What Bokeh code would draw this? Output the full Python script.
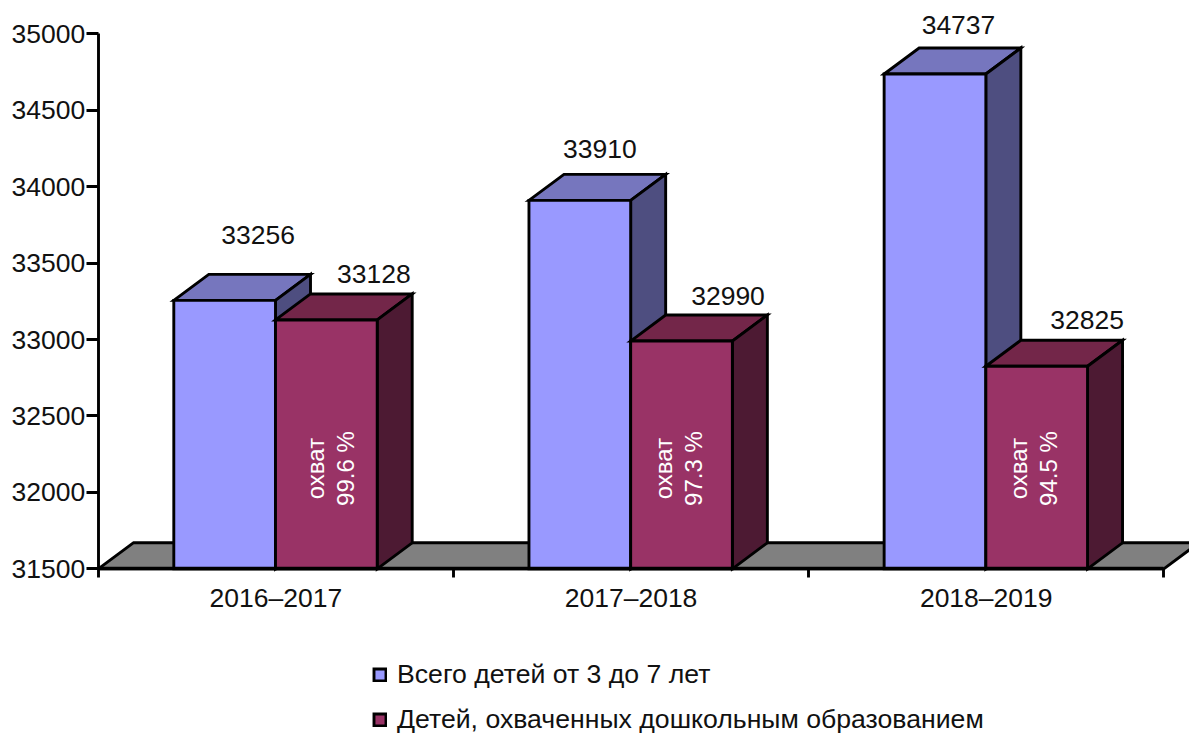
import math
from bokeh.plotting import figure
from bokeh.models import LinearAxis, FixedTicker, Range1d, Legend, LegendItem, ColumnDataSource
from bokeh.core.properties import value
from bokeh.embed import file_html
from bokeh.resources import INLINE

categories = ["2016–2017", "2017–2018", "2018–2019"]
total_children = [33256, 33910, 34737]
covered_children = [33128, 32990, 32825]
coverage = ["99.6 %", "97.3 %", "94.5 %"]
y_ticks = [31500, 32000, 32500, 33000, 33500, 34000, 34500, 35000]
series_names = ["Всего детей от 3 до 7 лет", "Детей, охваченных дошкольным образованием"]

W, H = 1189, 733
AX_L, AX_R = 97.8, 1163.3    # px positions of x = 0 and x = 3
AX_T, AX_B = 33.3, 568.3     # px positions of 35000 and 31500
ux = (AX_R - AX_L) / 3
uy = 3500 / (AX_B - AX_T)

FONT = "Liberation Sans"
SIZE = "26.5px"
DX, DY = 35 / ux, 26 * uy
GAP = (174 - 98.5) / ux
BW = 101.7 / ux
BASE = 31500
LW = 2.9

# hand-placed label nudges, px
label_dx = [16, 2.5, 6, 30, 29, 33]
label_dy = [39, 25, 23, 20, 19, 20]
note_dx = [7, 0, 0]

p = figure(width=W, height=H, output_backend="svg", toolbar_location=None,
           x_range=Range1d(-AX_L / ux, (W - AX_L) / ux),
           y_range=Range1d(BASE - (H - AX_B) * uy, BASE + AX_B * uy),
           min_border=0, min_border_left=0, min_border_right=0, min_border_top=0, min_border_bottom=0,
           x_axis_type=None, y_axis_type=None, outline_line_color=None)
p.grid.visible = False
p.background_fill_color = "white"


def box(x0, x1, top, front, topc, side):
    p.patch([x0, x0 + DX, x1 + DX, x1], [top, top + DY, top + DY, top],
            fill_color=topc, line_color="black", line_width=LW, line_join="miter")
    p.patch([x1, x1 + DX, x1 + DX, x1], [BASE, BASE + DY, top + DY, top],
            fill_color=side, line_color="black", line_width=LW, line_join="miter")
    return p.quad(left=[x0], right=[x1], bottom=[BASE], top=[top], fill_color=front,
                  line_color="black", line_width=LW, line_join="miter")


# floor
p.patch([0, DX, 3 + DX, 3], [BASE, BASE + DY, BASE + DY, BASE],
        fill_color="#808080", line_color="black", line_width=LW)

r1 = r2 = None
for i, (a, b) in enumerate(zip(total_children, covered_children)):
    x0 = i + GAP
    r1 = box(x0, x0 + BW, a, "#9999FF", "#7676BE", "#4E4E80")
    r2 = box(x0 + BW, x0 + 2 * BW, b, "#993366", "#732649", "#4D1A33")

# data labels
lab = ColumnDataSource(dict(
    x=[i + GAP + BW / 2 + DX / 2 for i in range(3)] + [i + GAP + 1.5 * BW + DX / 2 for i in range(3)],
    y=[a + DY for a in total_children] + [b + DY for b in covered_children],
    t=[str(v) for v in total_children + covered_children],
    xo=label_dx, yo=[-d for d in label_dy]))
p.text("x", "y", text="t", source=lab, x_offset="xo", y_offset="yo",
       text_font=value(FONT), text_font_size=SIZE, text_color="#111111",
       text_align="center", text_baseline="middle")

# rotated coverage notes
cx = [i + GAP + 1.5 * BW + d / ux for i, d in enumerate(note_dx)]
cy = [32156, 32156, 32156]
p.text([c - 18 / ux for c in cx], cy, text=["охват"] * 3, angle=math.pi / 2,
       text_font=value(FONT), text_font_size="24px", text_color="white",
       text_align="center", text_baseline="middle")
p.text([c + 12 / ux for c in cx], cy, text=coverage, angle=math.pi / 2,
       text_font=value(FONT), text_font_size="24px", text_color="white",
       text_align="center", text_baseline="middle")

# axes
yaxis = LinearAxis(fixed_location=0, bounds=(BASE, 35000), ticker=FixedTicker(ticks=y_ticks),
                   major_tick_in=0, major_tick_out=12, minor_tick_line_color=None,
                   major_tick_line_width=LW, axis_line_width=LW, major_tick_line_color="black",
                   major_label_standoff=1, major_label_text_font=FONT, major_label_text_font_size=SIZE,
                   major_label_text_color="#111111")
p.add_layout(yaxis, "left")

xaxis = LinearAxis(fixed_location=BASE, bounds=(0, 3), ticker=FixedTicker(ticks=[0, 1, 2, 3]),
                   major_tick_in=0, major_tick_out=9, minor_tick_line_color=None,
                   major_tick_line_width=LW, axis_line_width=3.4,
                   major_label_overrides={0: "", 1: "", 2: "", 3: ""})
p.add_layout(xaxis, "below")

xlab = LinearAxis(fixed_location=BASE, ticker=FixedTicker(ticks=[0.5, 1.5, 2.5]),
                  major_label_overrides={k + 0.5: c for k, c in enumerate(categories)},
                  major_tick_in=0, major_tick_out=0, minor_tick_line_color=None, axis_line_color=None,
                  major_label_standoff=14, major_label_text_font=FONT, major_label_text_font_size=SIZE,
                  major_label_text_color="#111111")
p.add_layout(xlab, "below")

legend = Legend(items=[LegendItem(label=series_names[0], renderers=[r1]),
                       LegendItem(label=series_names[1], renderers=[r2])],
                location=(372, -2), orientation="vertical", glyph_width=15, glyph_height=15,
                label_text_font=FONT, label_text_font_size="26.65px", label_text_color="#111111",
                label_standoff=10, spacing=14, padding=0, margin=0,
                border_line_color=None, background_fill_color=None, background_fill_alpha=0)
p.add_layout(legend, "center")

open("out.html", "w").write(file_html(p, INLINE))
